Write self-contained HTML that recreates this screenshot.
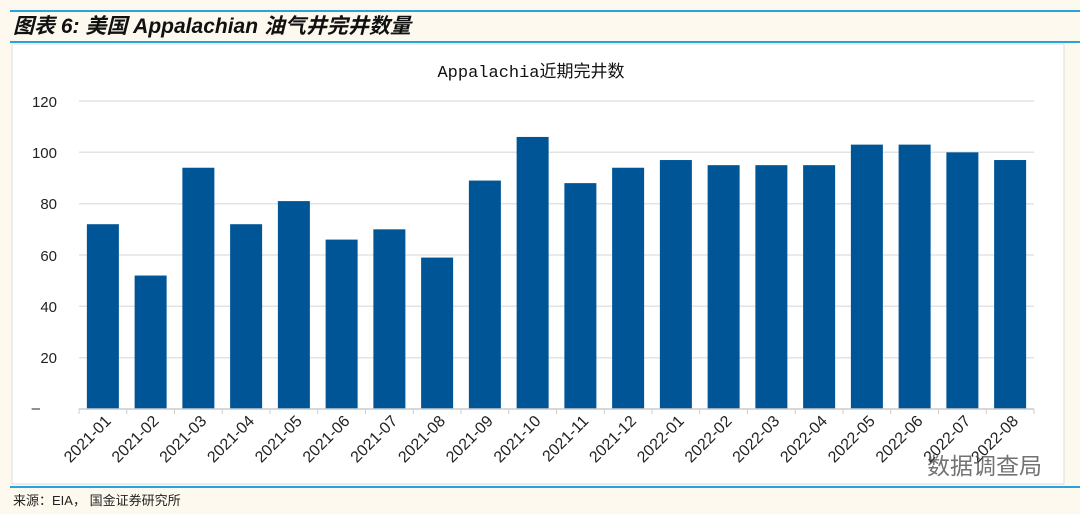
<!DOCTYPE html>
<html><head><meta charset="utf-8"><style>
body{margin:0;width:1080px;height:514px;background:#fdf9ef;overflow:hidden;position:relative;font-family:"Liberation Sans","Noto Sans CJK SC",sans-serif}
</style></head><body>
<svg width="1080" height="514" style="position:absolute;left:0;top:0">
<line x1="10" y1="11" x2="1080" y2="11" stroke="#29a3dc" stroke-width="2"/>
<text x="13" y="33" font-size="21" font-weight="bold" font-style="italic" fill="#111" font-family="Liberation Sans,Noto Sans CJK SC,sans-serif">图表 6:  美国 Appalachian 油气井完井数量</text>
<line x1="10" y1="42" x2="1080" y2="42" stroke="#29a3dc" stroke-width="2"/>
<rect x="12" y="44" width="1052" height="440" fill="#fff" stroke="#ddd"/>
<line x1="10" y1="487" x2="1080" y2="487" stroke="#29a3dc" stroke-width="2"/>
<text x="13" y="505" font-size="13" fill="#222" font-family="Liberation Sans,Noto Sans CJK SC,sans-serif">来源：EIA， 国金证券研究所</text>
<text x="531" y="77" font-size="17" text-anchor="middle" fill="#111" font-family="Liberation Mono,Noto Sans CJK SC,monospace">Appalachia近期完井数</text>
<g stroke="#e3e3e3" stroke-width="1.5">
<line x1="79" y1="101" x2="1034" y2="101"/><line x1="79" y1="152.3" x2="1034" y2="152.3"/><line x1="79" y1="203.7" x2="1034" y2="203.7"/><line x1="79" y1="255" x2="1034" y2="255"/><line x1="79" y1="306.3" x2="1034" y2="306.3"/><line x1="79" y1="357.7" x2="1034" y2="357.7"/>
</g>
<g font-size="15" fill="#222" text-anchor="end">
<text x="57" y="107">120</text><text x="57" y="158">100</text><text x="57" y="209">80</text><text x="57" y="261">60</text><text x="57" y="312">40</text><text x="57" y="363">20</text><text x="40" y="413">–</text>
</g>
<g id="bars" fill="#005596"></g>
<line x1="79" y1="409" x2="1034" y2="409" stroke="#ccc" stroke-width="1.5"/>
<g id="ticks" stroke="#ccc"></g>
<g id="labs" font-size="16" fill="#222"></g>
<text x="1042" y="474" font-size="23" text-anchor="end" fill="#444" opacity="0.75" font-family="Liberation Sans,Noto Sans CJK SC,sans-serif">数据调查局</text>
</svg>
<script>
var v=[72,52,94,72,81,66,70,59,89,106,88,94,97,95,95,95,103,103,100,97];
var b=document.getElementById('bars'),t=document.getElementById('ticks'),l=document.getElementById('labs'),ns='http://www.w3.org/2000/svg';
var w=(1034-79)/20;
for(var i=0;i<20;i++){var c=79+w*(i+0.5),h=v[i]*308/120;
var r=document.createElementNS(ns,'rect');r.setAttribute('x',c-16);r.setAttribute('y',409-h);r.setAttribute('width',32);r.setAttribute('height',h);b.appendChild(r);
var k=document.createElementNS(ns,'line');k.setAttribute('x1',79+w*i);k.setAttribute('x2',79+w*i);k.setAttribute('y1',409);k.setAttribute('y2',414);t.appendChild(k);
var s=document.createElementNS(ns,'text');var y=2021+(i>=12?1:0),m=(i%12)+1;s.textContent=y+'-'+(m<10?'0':'')+m;
s.setAttribute('text-anchor','end');s.setAttribute('transform','translate('+(c+9)+',422) rotate(-45)');l.appendChild(s);}
var k=document.createElementNS(ns,'line');k.setAttribute('x1',1034);k.setAttribute('x2',1034);k.setAttribute('y1',409);k.setAttribute('y2',414);t.appendChild(k);
</script>
</body></html>
